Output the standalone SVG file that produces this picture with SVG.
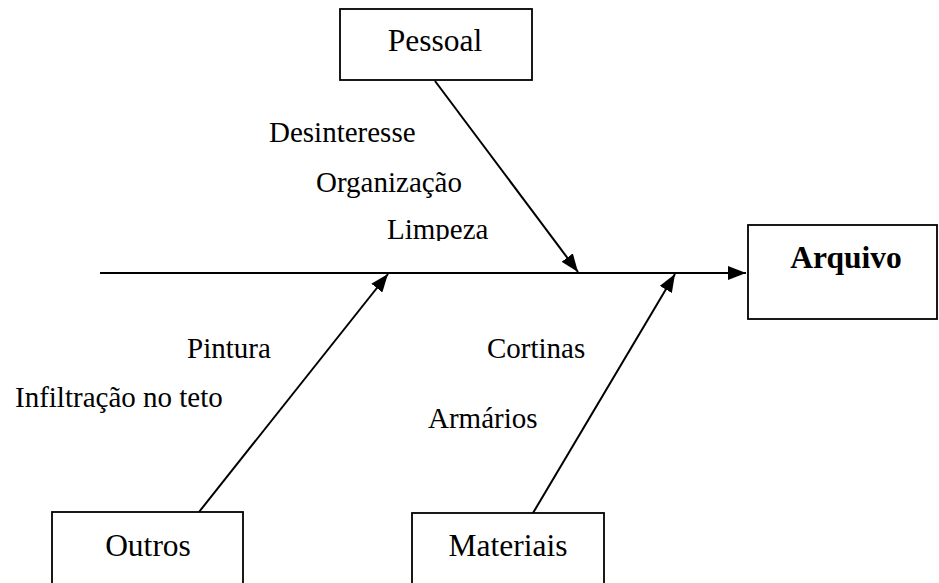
<svg xmlns="http://www.w3.org/2000/svg" width="939" height="583" viewBox="0 0 939 583">
<defs>
<marker id="ah" viewBox="0 0 10 10" refX="10" refY="5" markerWidth="18" markerHeight="14" markerUnits="userSpaceOnUse" orient="auto" preserveAspectRatio="none">
<path d="M0,0 L10,5 L0,10 z" fill="#000"/>
</marker>
<clipPath id="limclip"><rect x="0" y="0" width="939" height="241"/></clipPath>
</defs>
<style>
.box{fill:#fff;stroke:#000;stroke-width:1.8}
.t{font-family:"Liberation Serif","Times New Roman",serif;font-size:29px;fill:#000}
.bt{font-size:31.5px}
.b{font-weight:bold}
.ln{stroke:#000;stroke-width:2;fill:none;marker-end:url(#ah)}
</style>
<rect width="939" height="583" fill="#fff"/>
<g id="connectors">
<line class="ln" x1="100" y1="273" x2="746" y2="273"/>
<line class="ln" x1="435" y1="81" x2="578" y2="272"/>
<line class="ln" x1="199" y1="512" x2="388" y2="274"/>
<line class="ln" x1="533" y1="513" x2="675" y2="274"/>
</g>
<g id="pessoal">
<rect class="box" x="340" y="9" width="192" height="71"/>
<text class="t bt" x="435" y="51" text-anchor="middle">Pessoal</text>
</g>
<g id="arquivo">
<rect class="box" x="748" y="225" width="189" height="94"/>
<text class="t bt b" x="846" y="268" text-anchor="middle">Arquivo</text>
</g>
<g id="outros">
<rect class="box" x="52" y="512" width="191" height="80"/>
<text class="t bt" x="148" y="556" text-anchor="middle">Outros</text>
</g>
<g id="materiais">
<rect class="box" x="412" y="513" width="192" height="80"/>
<text class="t bt" x="508" y="556" text-anchor="middle">Materiais</text>
</g>
<g id="labels">
<text class="t" x="269" y="142">Desinteresse</text>
<text class="t" x="316" y="192">Organização</text>
<text class="t" x="387" y="239" clip-path="url(#limclip)">Limpeza</text>
<text class="t" x="187" y="358">Pintura</text>
<text class="t" x="15" y="407">Infiltração no teto</text>
<text class="t" x="487" y="358">Cortinas</text>
<text class="t" x="428" y="428">Armários</text>
</g>
</svg>
